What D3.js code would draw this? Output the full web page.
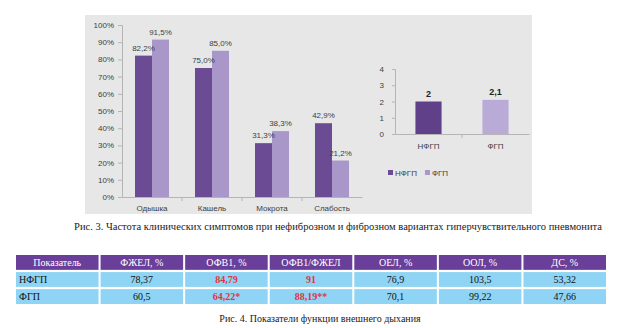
<!DOCTYPE html>
<html>
<head>
<meta charset="utf-8">
<script src="https://cdn.jsdelivr.net/npm/d3@7"></script>
<style>
  html, body { margin: 0; padding: 0; background: #fff; }
  svg { display: block; }
</style>
</head>
<body>
<script>
// Symptom frequency, %
const symptoms = ["Одышка", "Кашель", "Мокрота", "Слабость"];
const seriesNames = ["НФГП", "ФГП"];
const nfgpSymptoms = [82.2, 75.0, 31.3, 42.9];
const fgpSymptoms = [91.5, 85.0, 38.3, 21.2];
const pctTicks = [0, 10, 20, 30, 40, 50, 60, 70, 80, 90, 100];

// Second panel: mean score by group
const groups = ["НФГП", "ФГП"];
const groupScores = [2, 2.1];
const scoreTicks = [0, 1, 2, 3, 4];

// Lung function table
const tableHeaders = ["Показатель", "ФЖЕЛ, %", "ОФВ1, %", "ОФВ1/ФЖЕЛ", "ОЕЛ, %", "ООЛ, %", "ДС, %"];
const tableRowNames = ["НФГП", "ФГП"];
const nfgpRow = ["78,37", "84,79", "91", "76,9", "103,5", "53,32"];
const fgpRow = ["60,5", "64,22*", "88,19**", "70,1", "99,22", "47,66"];
const significantCols = ["ОФВ1, %", "ОФВ1/ФЖЕЛ"];

const caption3 = "Рис. 3. Частота клинических симптомов при нефиброзном и фиброзном вариантах гиперчувствительного пневмонита";
const caption4 = "Рис. 4. Показатели функции внешнего дыхания";

const W = 624, H = 328;
const colors = { "НФГП": "#6b4c94", "ФГП": "#a897c8" };
const sans = "'Liberation Sans', Arial, sans-serif";
const serif = "'Liberation Serif', 'Times New Roman', serif";
const fmt = v => d3.format(".1f")(v).replace(".", ",");

const svg = d3.select("body").append("svg")
  .attr("width", W).attr("height", H)
  .attr("viewBox", `0 0 ${W} ${H}`);

svg.append("rect").attr("width", W).attr("height", H).attr("fill", "#fff");

// chart background panel
svg.append("rect")
  .attr("x", 85).attr("y", 15).attr("width", 447).attr("height", 199)
  .attr("fill", "#e7e7e7");

// ---------- grouped bars: symptoms ----------
const yL = d3.scaleLinear().domain([0, 100]).range([197, 25]);
const xL = d3.scaleBand().domain(symptoms).range([122, 362])
  .paddingInner(0.433).paddingOuter(0.2165);
const xSub = d3.scaleBand().domain(seriesNames).range([0, xL.bandwidth()]);

const axL = svg.append("g").attr("transform", "translate(122,0)")
  .call(d3.axisLeft(yL).tickValues(pctTicks).tickSize(4).tickPadding(4)
    .tickFormat(d => d + "%"));
axL.select(".domain").attr("stroke", "#b5b5b5");
axL.selectAll(".tick line").attr("stroke", "#b5b5b5");
axL.selectAll(".tick text").attr("fill", "#404040")
  .style("font-family", sans).style("font-size", "8px");

const axLB = svg.append("g").attr("transform", `translate(0,${yL(0)})`)
  .call(d3.axisBottom(xL).tickSize(0).tickPadding(8));
axLB.select(".domain").attr("stroke", "#b5b5b5");
axLB.selectAll(".tick text").attr("fill", "#404040")
  .style("font-family", sans).style("font-size", "8px");
// category boundary ticks
svg.append("g").selectAll("line")
  .data(symptoms.slice(1))
  .join("line")
  .attr("x1", d => xL(d) - xL.step() * xL.paddingInner() / 2)
  .attr("x2", d => xL(d) - xL.step() * xL.paddingInner() / 2)
  .attr("y1", yL(0)).attr("y2", yL(0) + 4)
  .attr("stroke", "#b5b5b5");

const symData = symptoms.map((s, i) => ({
  cat: s,
  vals: [
    { name: "НФГП", value: nfgpSymptoms[i] },
    { name: "ФГП", value: fgpSymptoms[i] }
  ]
}));

const grp = svg.append("g").selectAll("g")
  .data(symData).join("g")
  .attr("transform", d => `translate(${xL(d.cat)},0)`);

grp.selectAll("rect")
  .data(d => d.vals).join("rect")
  .attr("x", d => xSub(d.name))
  .attr("y", d => yL(d.value))
  .attr("width", xSub.bandwidth())
  .attr("height", d => yL(0) - yL(d.value))
  .attr("fill", d => colors[d.name]);

grp.selectAll("text")
  .data(d => d.vals).join("text")
  .attr("x", d => xSub(d.name) + xSub.bandwidth() / 2)
  .attr("y", d => yL(d.value) - 5)
  .attr("text-anchor", "middle")
  .attr("fill", "#404040")
  .style("font-family", sans).style("font-size", "8px")
  .text(d => fmt(d.value) + "%");

// ---------- small bar chart: groups ----------
const yR = d3.scaleLinear().domain([0, 4]).range([134, 69]);
const xR = d3.scaleBand().domain(groups).range([395, 529])
  .paddingInner(0.61).paddingOuter(0.305);

const axR = svg.append("g").attr("transform", "translate(395,0)")
  .call(d3.axisLeft(yR).tickValues(scoreTicks).tickSize(3).tickPadding(8)
    .tickFormat(d3.format("d")));
axR.select(".domain").attr("stroke", "#b5b5b5");
axR.selectAll(".tick line").attr("stroke", "#b5b5b5");
axR.selectAll(".tick text").attr("fill", "#404040")
  .style("font-family", sans).style("font-size", "8px");

const axRB = svg.append("g").attr("transform", `translate(0,${yR(0)})`)
  .call(d3.axisBottom(xR).tickSize(0).tickPadding(9));
axRB.select(".domain").attr("stroke", "#b5b5b5");
axRB.selectAll(".tick text").attr("fill", "#404040")
  .style("font-family", sans).style("font-size", "8px");
svg.append("line")
  .attr("x1", (xR(groups[0]) + xR.bandwidth() + xR(groups[1])) / 2)
  .attr("x2", (xR(groups[0]) + xR.bandwidth() + xR(groups[1])) / 2)
  .attr("y1", yR(0)).attr("y2", yR(0) + 4)
  .attr("stroke", "#b5b5b5");

const scoreData = groups.map((g, i) => ({ name: g, value: groupScores[i] }));
svg.append("g").selectAll("rect")
  .data(scoreData).join("rect")
  .attr("x", d => xR(d.name))
  .attr("y", d => yR(d.value))
  .attr("width", xR.bandwidth())
  .attr("height", d => yR(0) - yR(d.value))
  .attr("fill", d => d.name === "НФГП" ? "#5f4089" : "#b9aad8");
svg.append("g").selectAll("text")
  .data(scoreData).join("text")
  .attr("x", d => xR(d.name) + xR.bandwidth() / 2)
  .attr("y", d => yR(d.value) - 5)
  .attr("text-anchor", "middle")
  .attr("fill", "#222")
  .style("font-family", sans).style("font-size", "9px").style("font-weight", "bold")
  .text(d => String(d.value).replace(".", ","));

// legend
const leg = svg.append("g").attr("transform", "translate(388,173)");
let lx = 0;
seriesNames.forEach(name => {
  leg.append("rect").attr("x", lx).attr("y", -3).attr("width", 5).attr("height", 5)
    .attr("fill", colors[name]);
  const t = leg.append("text").attr("x", lx + 7).attr("y", 2.5)
    .attr("fill", "#404040")
    .style("font-family", sans).style("font-size", "8px")
    .text(name);
  lx += 7 + t.node().getComputedTextLength() + 8;
});

// caption under the charts
svg.append("text")
  .attr("x", 338).attr("y", 230)
  .attr("text-anchor", "middle")
  .attr("fill", "#1a1a1a")
  .style("font-family", serif).style("font-size", "10.5px")
  .text(caption3);

// ---------- table ----------
const colX = d3.scaleBand().domain(tableHeaders).range([16, 606]).paddingInner(0.024);
const rowY = d3.scaleBand().domain(["head"].concat(tableRowNames)).range([255, 304]).paddingInner(0.13);

const rows = [
  { key: "head", cells: tableHeaders },
  { key: tableRowNames[0], cells: [tableRowNames[0]].concat(nfgpRow) },
  { key: tableRowNames[1], cells: [tableRowNames[1]].concat(fgpRow) }
];

const tbl = svg.append("g");
rows.forEach(r => {
  const isHead = r.key === "head";
  r.cells.forEach((c, j) => {
    const col = tableHeaders[j];
    tbl.append("rect")
      .attr("x", colX(col)).attr("y", rowY(r.key))
      .attr("width", colX.bandwidth()).attr("height", rowY.bandwidth())
      .attr("fill", isHead ? "#6a3f99" : "#8fd4f4");
    const red = !isHead && significantCols.includes(col);
    const firstCol = !isHead && j === 0;
    tbl.append("text")
      .attr("x", firstCol ? colX(col) + 3 : colX(col) + colX.bandwidth() / 2)
      .attr("y", rowY(r.key) + rowY.bandwidth() / 2 + 3.5)
      .attr("text-anchor", firstCol ? "start" : "middle")
      .attr("fill", isHead ? "#fff" : red ? "#e0343c" : "#111")
      .style("font-family", serif).style("font-size", "10px")
      .style("font-weight", red ? "bold" : "normal")
      .text(c);
  });
});

svg.append("text")
  .attr("x", 320).attr("y", 322)
  .attr("text-anchor", "middle")
  .attr("fill", "#1a1a1a")
  .style("font-family", serif).style("font-size", "10px")
  .text(caption4);
</script>
</body>
</html>
